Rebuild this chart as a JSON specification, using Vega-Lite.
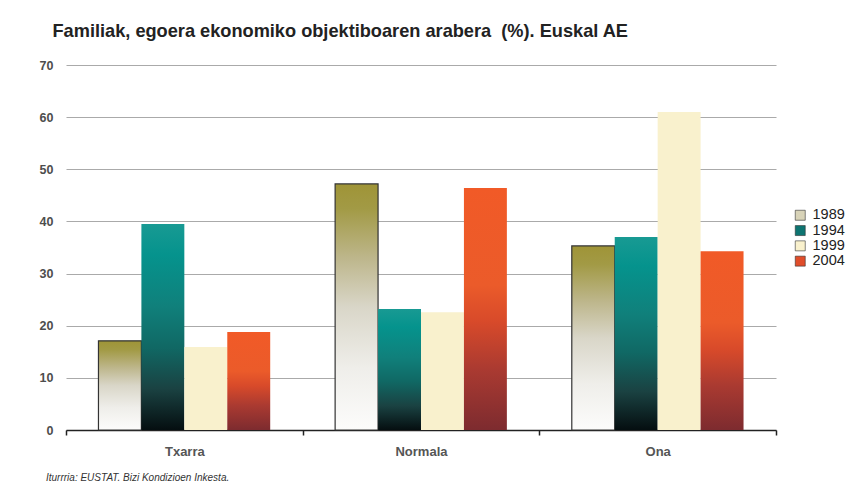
{
  "$schema": "https://vega.github.io/schema/vega-lite/v6.json",
  "width": 710,
  "height": 365,
  "autosize": "none",
  "padding": {"left": 66, "top": 65, "right": 73, "bottom": 52},
  "background": "white",
  "title": {
    "text": "Familiak, egoera ekonomiko objektiboaren arabera \u00a0(%). Euskal AE",
    "anchor": "start",
    "frame": "group",
    "dx": -13.5,
    "offset": 18,
    "font": "Liberation Sans",
    "fontSize": 18.2,
    "fontWeight": "bold",
    "color": "#222222"
  },
  "data": {
    "values": [
      {"cat": "Txarra", "year": "1989", "value": 17.1},
      {"cat": "Txarra", "year": "1994", "value": 39.5},
      {"cat": "Txarra", "year": "1999", "value": 15.9},
      {"cat": "Txarra", "year": "2004", "value": 18.8},
      {"cat": "Normala", "year": "1989", "value": 47.2},
      {"cat": "Normala", "year": "1994", "value": 23.2},
      {"cat": "Normala", "year": "1999", "value": 22.6},
      {"cat": "Normala", "year": "2004", "value": 46.4},
      {"cat": "Ona", "year": "1989", "value": 35.3},
      {"cat": "Ona", "year": "1994", "value": 37.0},
      {"cat": "Ona", "year": "1999", "value": 61.0},
      {"cat": "Ona", "year": "2004", "value": 34.3}
    ]
  },
  "encoding": {
    "x": {
      "field": "cat",
      "type": "nominal",
      "sort": ["Txarra", "Normala", "Ona"],
      "scale": {"paddingInner": 0, "paddingOuter": 0},
      "axis": {
        "title": "Iturrria: EUSTAT. Bizi Kondizioen Inkesta.",
        "titleAnchor": "start",
        "titleAlign": "left",
        "titleX": -20.5,
        "titleY": 50,
        "titleBaseline": "alphabetic",
        "titleFont": "Liberation Sans",
        "titleFontSize": 10,
        "titleFontStyle": "italic",
        "titleFontWeight": "normal",
        "titleColor": "#333333",
        "labelAngle": 0,
        "labelFont": "Liberation Sans",
        "labelFontSize": 13,
        "labelFontWeight": "bold",
        "labelColor": "#555555",
        "labelPadding": 10,
        "tickBand": "extent",
        "tickSize": 5,
        "tickColor": "#222222",
        "tickWidth": 1.5,
        "domainColor": "#222222",
        "domainWidth": 1.5,
        "grid": false
      }
    },
    "xOffset": {"field": "year", "type": "nominal", "scale": {"domain": ["1989", "1994", "1999", "2004"], "paddingInner": 0, "paddingOuter": 0.756}},
    "y": {
      "field": "value",
      "type": "quantitative",
      "scale": {"domain": [0, 70], "nice": false},
      "axis": {
        "title": null,
        "values": [0, 10, 20, 30, 40, 50, 60, 70],
        "domain": false,
        "ticks": false,
        "tickSize": 0,
        "labelPadding": 13,
        "labelFont": "Liberation Sans",
        "labelFontSize": 12.5,
        "labelFontWeight": "bold",
        "labelColor": "#4d4d4d",
        "gridColor": "#aaaaaa",
        "gridWidth": 1.2
      }
    }
  },
  "layer": [
    {
      "mark": {"type": "bar", "opacity": 0},
      "encoding": {
        "fill": {
          "field": "year",
          "type": "nominal",
          "scale": {
            "domain": ["1989", "1994", "1999", "2004"],
            "range": ["#d8d3b8", "#0d7471", "#f9f1cd", "#e04d2a"]
          },
          "legend": {
            "title": null,
            "orient": "none",
            "legendX": 727,
            "legendY": 143,
            "symbolType": "square",
            "symbolSize": 100,
            "symbolOpacity": 1,
            "symbolStrokeColor": "#333333",
            "symbolStrokeWidth": 0.6,
            "labelFont": "Liberation Sans",
            "labelFontSize": 14.5,
            "labelColor": "#222222",
            "labelOffset": 5,
            "rowPadding": 0.3,
            "encode": {
              "symbols": {
                "update": {
                  "opacity": {"value": 1},
                  "stroke": {"value": "#333333"},
                  "strokeWidth": {"value": 0.6}
                }
              }
            }
          }
        }
      }
    },
    {
      "transform": [{"filter": "datum.year === '1989'"}],
      "mark": {
        "type": "bar",
        "stroke": "#333333",
        "strokeWidth": 1.2,
        "fill": {"gradient": "linear", "x1": 0, "y1": 0, "x2": 0, "y2": 1, "stops": [
          {"offset": 0, "color": "#9f9437"},
          {"offset": 0.1, "color": "#a29a45"},
          {"offset": 0.3, "color": "#bdb68b"},
          {"offset": 0.5, "color": "#d9d6c8"},
          {"offset": 0.75, "color": "#efeeea"},
          {"offset": 1, "color": "#fcfcfb"}
        ]}
      }
    },
    {
      "transform": [{"filter": "datum.year === '1994'"}],
      "mark": {
        "type": "bar",
        "fill": {"gradient": "linear", "x1": 0, "y1": 0, "x2": 0, "y2": 1, "stops": [
          {"offset": 0, "color": "#189a93"},
          {"offset": 0.15, "color": "#05938d"},
          {"offset": 0.4, "color": "#10807b"},
          {"offset": 0.6, "color": "#106864"},
          {"offset": 0.8, "color": "#1a4242"},
          {"offset": 1, "color": "#050e10"}
        ]}
      }
    },
    {
      "transform": [{"filter": "datum.year === '1999'"}],
      "mark": {"type": "bar", "fill": "#f9f1cd"}
    },
    {
      "transform": [{"filter": "datum.year === '2004'"}],
      "mark": {
        "type": "bar",
        "fill": {"gradient": "linear", "x1": 0, "y1": 0, "x2": 0, "y2": 1, "stops": [
          {"offset": 0, "color": "#f15a27"},
          {"offset": 0.4, "color": "#eb5b2a"},
          {"offset": 0.55, "color": "#d84a2a"},
          {"offset": 0.75, "color": "#aa3a31"},
          {"offset": 1, "color": "#7d2b2f"}
        ]}
      }
    }
  ],
  "config": {
    "view": {"stroke": null}
  }
}
